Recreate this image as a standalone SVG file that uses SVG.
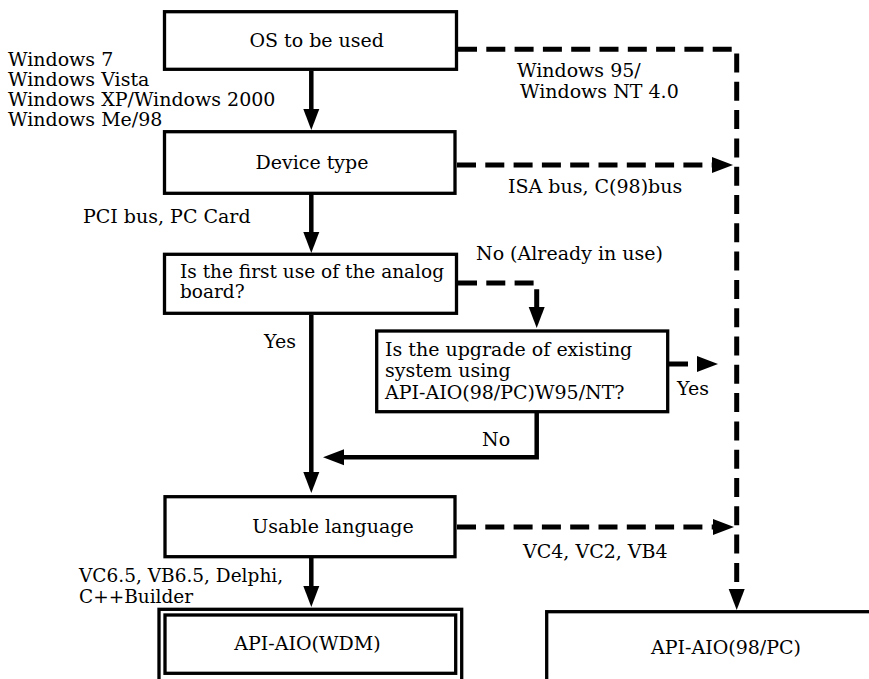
<svg xmlns="http://www.w3.org/2000/svg" width="869" height="679" viewBox="0 0 869 679">
<style>
  .box { fill: #fff; stroke: #000; stroke-width: 3.3; }
  .t { font-family: "DejaVu Serif", "Liberation Serif", serif; font-size: 19px; fill: #000; }
  .ts { font-family: "DejaVu Serif", "Liberation Serif", serif; font-size: 18.5px; fill: #000; }
  .solid { fill: none; stroke: #000; stroke-width: 4.5; }
  .dash { fill: none; stroke: #000; stroke-width: 5; stroke-dasharray: 19 9.3; }
</style>
<defs>
  <marker id="ah" markerUnits="userSpaceOnUse" markerWidth="22" markerHeight="18" viewBox="0 -9 22 18" refX="1" refY="0" orient="auto">
    <path d="M0,-8 L21,0 L0,8 z" fill="#000"/>
  </marker>
</defs>
<rect width="869" height="679" fill="#fff"/>

<g id="connectors">
  <path class="solid" d="M311.3,71 V110" marker-end="url(#ah)"/>
  <path class="solid" d="M311.3,194 V233" marker-end="url(#ah)"/>
  <path class="solid" d="M311.3,315 V473" marker-end="url(#ah)"/>
  <path class="solid" d="M311.3,558 V587" marker-end="url(#ah)"/>
  <path class="dash" d="M458,283 H536.7 V308" marker-end="url(#ah)"/>
  <path class="solid" d="M536.7,413 V457.2 H343" marker-end="url(#ah)"/>
  <path class="dash" d="M669,364 H698" marker-end="url(#ah)"/>
  <path class="dash" d="M458,49.2 H736.7 V590" marker-end="url(#ah)"/>
  <path class="dash" d="M457,165 H713" marker-end="url(#ah)"/>
  <path class="dash" d="M457,527 H714" marker-end="url(#ah)"/>
</g>

<g id="labels">
  <text class="t" x="8" y="65.5">Windows 7</text>
  <text class="t" x="8" y="85.7">Windows Vista</text>
  <text class="t" x="8" y="106">Windows XP/Windows 2000</text>
  <text class="t" x="8" y="126">Windows Me/98</text>
  <text class="t" x="517" y="76.7">Windows 95/</text>
  <text class="t" x="520" y="98.3">Windows NT 4.0</text>
  <text class="t" x="508" y="193.3">ISA bus, C(98)bus</text>
  <text class="t" x="83" y="222.7">PCI bus, PC Card</text>
  <text class="t" x="476" y="260">No (Already in use)</text>
  <text class="t" x="264" y="348">Yes</text>
  <text class="t" x="677" y="395">Yes</text>
  <text class="t" x="482" y="446">No</text>
  <text class="t" x="523" y="558.3">VC4, VC2, VB4</text>
  <text class="ts" x="79" y="582">VC6.5, VB6.5, Delphi,</text>
  <text class="ts" x="79" y="602.5">C++Builder</text>
</g>

<g id="node-os">
  <rect class="box" x="164.5" y="11.7" width="292" height="57.6"/>
  <text class="t" x="316.7" y="47.3" text-anchor="middle">OS to be used</text>
</g>
<g id="node-device">
  <rect class="box" x="164.5" y="131.7" width="290.5" height="61.6"/>
  <text class="t" x="312" y="168.5" text-anchor="middle">Device type</text>
</g>
<g id="node-firstuse">
  <rect class="box" x="164.5" y="254.3" width="292" height="59"/>
  <text class="ts" x="180" y="277.5">Is the first use of the analog</text>
  <text class="ts" x="180" y="298">board?</text>
</g>
<g id="node-upgrade">
  <rect class="box" x="376.7" y="331" width="291" height="80.7"/>
  <text class="t" x="385" y="356">Is the upgrade of existing</text>
  <text class="t" x="385" y="377">system using</text>
  <text class="t" x="385" y="399">API-AIO(98/PC)W95/NT?</text>
</g>
<g id="node-language">
  <rect class="box" x="165" y="496.7" width="290" height="60"/>
  <text class="t" x="333" y="533.3" text-anchor="middle">Usable language</text>
</g>
<g id="node-wdm">
  <rect class="box" x="159" y="609.3" width="302.7" height="90"/>
  <rect class="box" x="165" y="615" width="290.7" height="58.3"/>
  <text class="t" x="307.5" y="650" text-anchor="middle">API-AIO(WDM)</text>
</g>
<g id="node-98pc">
  <rect class="box" x="546.7" y="611.7" width="400" height="100"/>
  <text class="t" x="726" y="654" text-anchor="middle">API-AIO(98/PC)</text>
</g>
</svg>
